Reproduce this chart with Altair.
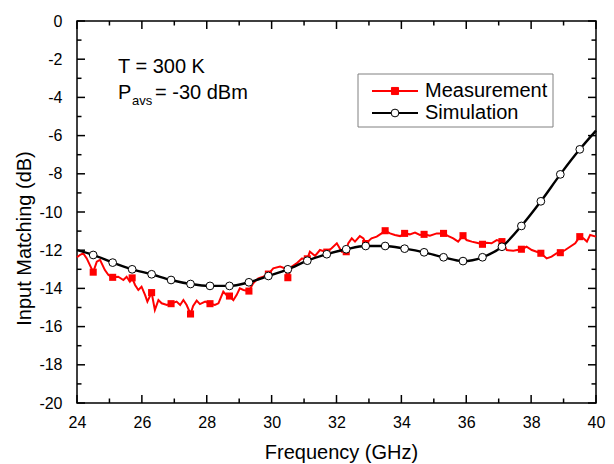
import altair as alt
import pandas as pd

# ---------------- data ----------------
series_names = ["Measurement", "Simulation"]

sim_freq = [24.0, 24.5, 25.1, 25.7, 26.3, 26.9, 27.5, 28.1, 28.7, 29.3, 29.9, 30.5,
            31.1, 31.7, 32.3, 32.9, 33.5, 34.1, 34.7, 35.3, 35.9, 36.5, 37.1, 37.7,
            38.3, 38.9, 39.5, 40.0]
sim_db = [-12.0, -12.25, -12.65, -13.0, -13.26, -13.56, -13.77, -13.87, -13.87, -13.68,
          -13.35, -13.0, -12.55, -12.21, -11.95, -11.78, -11.78, -11.92, -12.11, -12.37,
          -12.57, -12.37, -11.82, -10.73, -9.44, -8.03, -6.72, -5.74]

meas_freq = [24.0, 24.09, 24.19, 24.30, 24.5, 24.61, 24.71, 24.86, 24.97, 25.1, 25.27,
             25.43, 25.53, 25.63, 25.7, 25.79, 25.89, 25.99, 26.1, 26.17, 26.3, 26.4,
             26.51, 26.61, 26.77, 26.9, 27.07, 27.18, 27.28, 27.38, 27.5, 27.58, 27.69,
             27.79, 27.95, 28.1, 28.25, 28.36, 28.51, 28.61, 28.7, 28.82, 28.92, 29.02,
             29.13, 29.3, 29.43, 29.59, 29.74, 29.9, 30.05, 30.26, 30.41, 30.5, 30.62,
             30.77, 30.93, 31.1, 31.18, 31.34, 31.49, 31.7, 31.85, 32.01, 32.16, 32.3,
             32.36, 32.47, 32.57, 32.72, 32.83, 32.9, 33.08, 33.24, 33.39, 33.5, 33.65,
             33.8, 33.96, 34.1, 34.26, 34.42, 34.57, 34.7, 34.88, 35.09, 35.3, 35.45,
             35.6, 35.75, 35.9, 36.01, 36.17, 36.32, 36.5, 36.63, 36.78, 36.94, 37.1,
             37.25, 37.45, 37.7, 37.86, 38.02, 38.17, 38.3, 38.48, 38.63, 38.79, 38.9,
             39.05, 39.2, 39.36, 39.5, 39.61, 39.72, 39.82, 40.0]
meas_db = [-12.37, -12.25, -12.16, -12.43, -13.15, -12.60, -12.51, -13.04, -13.30, -13.42,
           -13.39, -13.56, -13.39, -13.65, -13.45, -13.82, -14.08, -13.91, -14.35, -14.69,
           -14.22, -15.13, -14.61, -14.78, -14.87, -14.80, -14.69, -14.87, -14.61, -14.87,
           -15.34, -14.92, -14.64, -14.82, -14.69, -14.80, -14.87, -14.78, -14.17, -14.35,
           -14.40, -14.61, -14.35, -14.00, -14.08, -14.14, -13.73, -13.47, -13.39, -13.25,
           -12.95, -12.86, -12.95, -13.44, -12.86, -12.69, -12.43, -12.45, -12.08, -12.30,
           -11.99, -12.10, -11.90, -11.64, -12.08, -12.08, -11.64, -11.38, -11.55, -11.26,
           -11.38, -11.65, -11.38, -11.29, -11.12, -10.98, -11.12, -11.20, -11.26, -11.12,
           -11.17, -11.08, -11.20, -11.17, -11.24, -11.12, -11.12, -11.26, -11.38, -11.55,
           -11.24, -11.47, -11.55, -11.61, -11.69, -11.61, -11.64, -11.47, -11.55, -11.99,
           -12.03, -11.95, -11.82, -11.99, -12.08, -12.16, -12.43, -12.34, -12.16, -12.13,
           -11.99, -11.82, -11.64, -11.29, -11.38, -11.55, -11.20, -11.29]

marker_freq = [24.5, 25.1, 25.7, 26.3, 26.9, 27.5, 28.1, 28.7, 29.3, 29.9, 30.5, 31.1,
               31.7, 32.3, 32.9, 33.5, 34.1, 34.7, 35.3, 35.9, 36.5, 37.1, 37.7, 38.3,
               38.9, 39.5]

x_major = [24, 26, 28, 30, 32, 34, 36, 38, 40]
x_minor = [25, 27, 29, 31, 33, 35, 37, 39]
y_major = [0, -2, -4, -6, -8, -10, -12, -14, -16, -18, -20]
y_minor = [-1, -3, -5, -7, -9, -11, -13, -15, -17, -19]

notes = ["T = 300 K", "P", "avs", "= -30 dBm"]

# ---------------- tables ----------------
meas = pd.DataFrame({"freq": meas_freq, "db": meas_db})
sim = pd.DataFrame({"freq": sim_freq, "db": sim_db})
meas_pts = meas[meas["freq"].round(2).isin([round(v, 2) for v in marker_freq])]
sim_pts = sim[sim["freq"].round(2).isin([round(v, 2) for v in marker_freq])]

W, H = 519, 382
FONT = "Liberation Sans"

xscale = alt.Scale(domain=[24, 40], nice=False, zero=False)
yscale = alt.Scale(domain=[-20, 0], nice=False, zero=False)

x_axis = alt.Axis(values=x_major, title="Frequency (GHz)", domain=False, ticks=False,
                  tickSize=0, grid=False, labelPadding=11, labelFontSize=16,
                  labelColor="black", labelExpr="'' + datum.value", labelFlush=False,
                  labelOverlap=False, titleFontSize=20, titleFontWeight="normal",
                  titleColor="black", titleX=264, titleY=49, titleBaseline="middle",
                  titleAlign="center")
y_axis = alt.Axis(values=y_major, title="Input Matching (dB)", domain=False, ticks=False,
                  tickSize=0, grid=False, labelPadding=15, labelFontSize=16,
                  labelColor="black", labelExpr="'' + datum.value", labelFlush=False,
                  labelOverlap=False, titleFontSize=20, titleFontWeight="normal",
                  titleColor="black", titleAngle=270, titleX=-53, titleY=217,
                  titleBaseline="middle", titleAlign="center")

X = alt.X("freq:Q", scale=xscale, axis=x_axis)
Y = alt.Y("db:Q", scale=yscale, axis=y_axis)

meas_line = alt.Chart(meas).mark_line(color="#ff0000", strokeWidth=2).encode(x=X, y=Y)
meas_mark = alt.Chart(meas_pts).mark_point(shape="square", filled=True, color="#ff0000",
                                           size=50, opacity=1).encode(x=X, y=Y)
sim_line = alt.Chart(sim).mark_line(color="black", strokeWidth=2.4,
                                    interpolate="monotone").encode(x=X, y=Y)
sim_mark = alt.Chart(sim_pts).mark_point(shape="circle", filled=True, fill="white",
                                         stroke="black", strokeWidth=1, size=60,
                                         opacity=1).encode(x=X, y=Y)

# ---- inward ticks on all four sides ----
xt_major = pd.DataFrame({"freq": x_major})
xt_minor = pd.DataFrame({"freq": x_minor})
yt_major = pd.DataFrame({"db": y_major})
yt_minor = pd.DataFrame({"db": y_minor})


def xticks(df, length):
    bottom = alt.Chart(df).mark_rule(color="black", strokeWidth=1.5).encode(
        x=X, y=alt.value(H), y2=alt.value(H - length))
    top = alt.Chart(df).mark_rule(color="black", strokeWidth=1.5).encode(
        x=X, y=alt.value(0), y2=alt.value(length))
    return [bottom, top]


def yticks(df, length):
    left = alt.Chart(df).mark_rule(color="black", strokeWidth=1.5).encode(
        y=Y, x=alt.value(0), x2=alt.value(length))
    right = alt.Chart(df).mark_rule(color="black", strokeWidth=1.5).encode(
        y=Y, x=alt.value(W), x2=alt.value(W - length))
    return [left, right]


tick_layers = xticks(xt_major, 8) + xticks(xt_minor, 4.5) + yticks(yt_major, 8) + yticks(yt_minor, 4.5)

# ---- legend ----
leg_df = pd.DataFrame({"label": series_names})
leg_box = alt.Chart(leg_df.head(1)).mark_rect(fill="white", stroke="#808080",
                                              strokeWidth=1).encode(
    x=alt.value(281), x2=alt.value(476), y=alt.value(53), y2=alt.value(106))

leg_layers = [leg_box]
rows = [(series_names[0], 70, "#ff0000", "square", "#ff0000", 50),
        (series_names[1], 92, "black", "circle", "white", 60)]
for name, yy, col, shp, fil, sz in rows:
    d = leg_df[leg_df["label"] == name]
    leg_layers.append(alt.Chart(d).mark_rule(color=col, strokeWidth=2).encode(
        x=alt.value(295), x2=alt.value(341), y=alt.value(yy)))
    leg_layers.append(alt.Chart(d).mark_point(shape=shp, filled=True, fill=fil,
                                              stroke=col, strokeWidth=1, size=sz,
                                              opacity=1).encode(
        x=alt.value(318), y=alt.value(yy)))
    leg_layers.append(alt.Chart(d).mark_text(align="left", baseline="middle",
                                             fontSize=20, font=FONT,
                                             color="black").encode(
        x=alt.value(348), y=alt.value(yy), text="label:N"))

# ---- annotation ----
note_df = pd.DataFrame({"t": notes})
note_layers = []
for txt, xx, yy, fs in [(notes[0], 41, 52, 20), (notes[1], 41, 78, 20),
                        (notes[2], 55, 84, 13), (notes[3], 78, 78, 20)]:
    note_layers.append(alt.Chart(note_df[note_df["t"] == txt]).mark_text(
        align="left", baseline="alphabetic", fontSize=fs, font=FONT,
        color="black").encode(x=alt.value(xx), y=alt.value(yy), text="t:N"))

chart = alt.layer(
    meas_line, meas_mark, sim_line, sim_mark, *tick_layers, *leg_layers, *note_layers
).properties(
    width=W, height=H,
    autosize="none",
    padding={"left": 69, "top": 13, "right": 10, "bottom": 60},
    background="white",
).configure(font=FONT).configure_view(stroke="black", strokeWidth=1.5)

chart.save("out.html", embed_options={"renderer": "svg", "actions": False})
